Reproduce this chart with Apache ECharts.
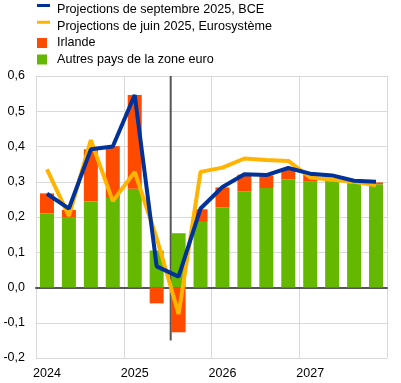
<!DOCTYPE html>
<html><head><meta charset="utf-8">
<script src="https://cdn.jsdelivr.net/npm/echarts@6/dist/echarts.min.js"></script>
<style>html,body{margin:0;padding:0;background:#fff}#c{width:401px;height:383px}</style>
</head><body><div id="c"></div>
<script>
const categories = ['2024','2024Q2','2024Q3','2024Q4','2025','2025Q2','2025Q3','2025Q4','2026','2026Q2','2026Q3','2026Q4','2027','2027Q2','2027Q3','2027Q4'];
const yearLabels = {'2024':'2024','2025':'2025','2026':'2026','2027':'2027'};
const autres = [0.21,0.20,0.245,0.254,0.28,0.105,0.154,0.186,0.227,0.273,0.282,0.307,0.30,0.30,0.295,0.293];
const irlande = [0.057,0.02,0.147,0.147,0.266,-0.045,-0.127,0.036,0.057,0.047,0.036,0.03,0.02,0.01,0.005,0.005];
const septembre = [0.266,0.224,0.392,0.40,0.546,0.06,0.031,0.224,0.285,0.321,0.319,0.339,0.323,0.318,0.303,0.30];
const juin = [0.335,0.203,0.418,0.245,0.328,0.14,-0.075,0.328,0.34,0.366,0.362,0.359,0.312,0.306,0.30,0.29];
const dividerPos = 6.14;
const dividerRange = [0.6,-0.15];
const yTicks = {min:-0.2,max:0.6,interval:0.1};

const names = ['Projections de septembre 2025, BCE','Projections de juin 2025, Eurosystème','Irlande','Autres pays de la zone euro'];
const lineIcon = 'path://M0 0H13V3H0ZM0 0H15V0H0ZM0 11H15V11H0Z';
const boxIcon = 'path://M0 0.5H10V10.5H0ZM0 0H15V0H0ZM0 11H15V11H0Z';
const chart = echarts.init(document.getElementById('c'));
chart.setOption({
  animation:false,
  textStyle:{fontFamily:'Liberation Sans, Arial, sans-serif'},
  legend:{
    orient:'vertical', left:37, top:3, padding:0, itemWidth:15, itemHeight:11, itemGap:3.7,
    itemStyle:{borderWidth:0}, lineStyle:{width:0},
    textStyle:{fontSize:12.6,lineHeight:11,color:'#000'},
    data:[
      {name:names[0],icon:lineIcon},
      {name:names[1],icon:lineIcon},
      {name:names[2],icon:boxIcon},
      {name:names[3],icon:boxIcon}
    ]
  },
  grid:{left:36,right:14,top:76,bottom:25},
  xAxis:[{
    type:'category', data:categories,
    axisLine:{onZero:true,lineStyle:{color:'#555',width:2}},
    axisTick:{show:false},
    axisLabel:{interval:3,color:'#000',fontSize:12.5,margin:9,formatter:v=>yearLabels[v]||''},
    splitLine:{show:true,interval:3,lineStyle:{color:'#d9d9d9',width:1}}
  },{
    type:'value', min:0, max:categories.length, show:false
  }],
  yAxis:{
    type:'value', min:yTicks.min, max:yTicks.max, interval:yTicks.interval,
    axisLine:{show:false}, axisTick:{show:false},
    axisLabel:{color:'#000',fontSize:12.5,margin:11,formatter:v=>v.toFixed(1).replace('.',',')},
    splitLine:{lineStyle:{color:'#d9d9d9',width:1}}
  },
  series:[
    {name:names[3],type:'bar',stack:'s',data:autres,barWidth:14,itemStyle:{color:'#65B800'}},
    {name:names[2],type:'bar',stack:'s',data:irlande,barWidth:14,itemStyle:{color:'#FF4B00'}},
    {name:'divider',type:'line',xAxisIndex:1,data:[[dividerPos,dividerRange[0]],[dividerPos,dividerRange[1]]],
      symbol:'none',lineStyle:{color:'#555',width:2},silent:true,z:3},
    {name:names[1],type:'line',data:juin,symbol:'none',lineStyle:{color:'#FFB400',width:4},itemStyle:{color:'#FFB400'},z:4},
    {name:names[0],type:'line',data:septembre,symbol:'none',lineStyle:{color:'#003299',width:4},itemStyle:{color:'#003299'},z:5}
  ]
});
</script></body></html>
